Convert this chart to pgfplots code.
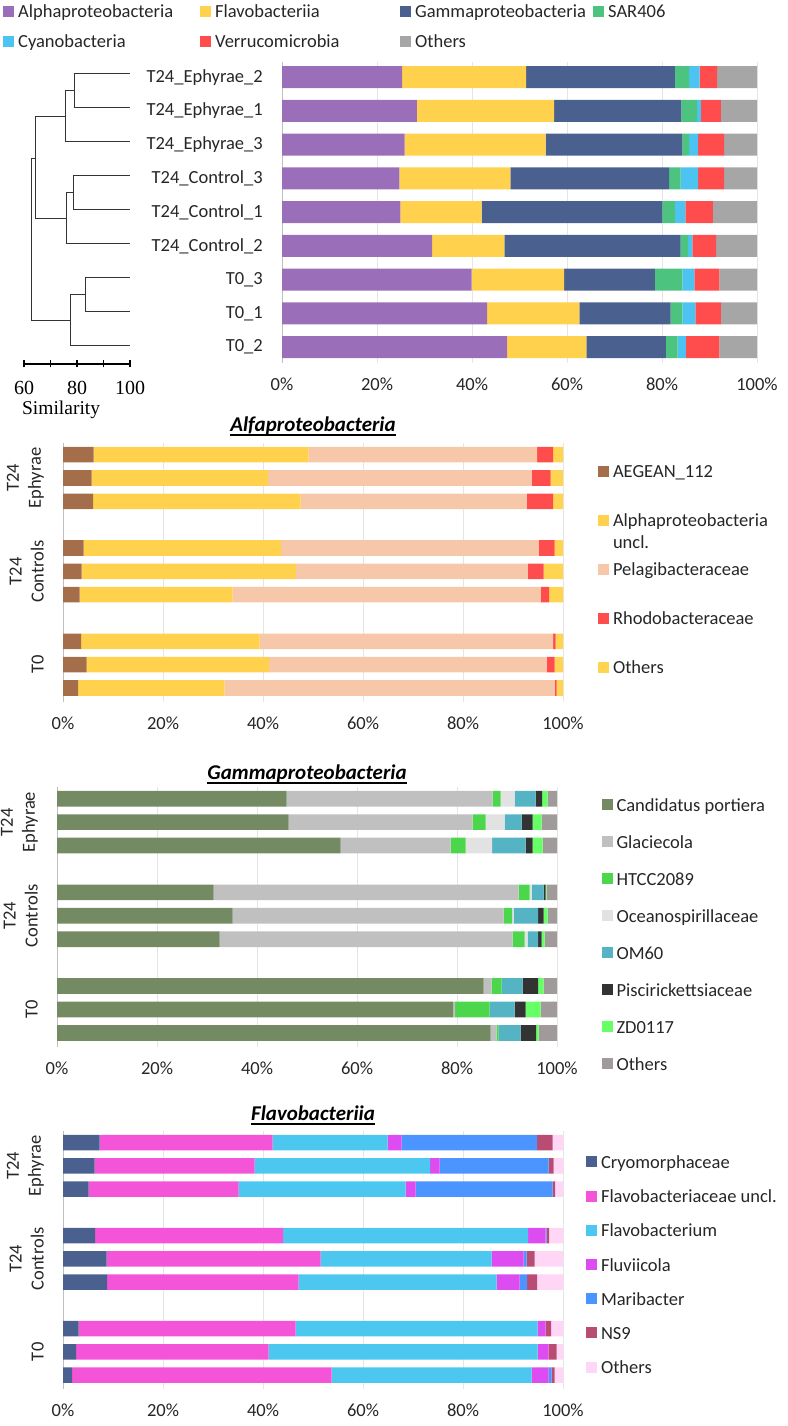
\documentclass[border=0pt]{standalone}
\usepackage{fontspec}
\setmainfont{Carlito}
\newfontfamily\serif{Liberation Serif}
\usepackage{pgfplots}
\usepackage{pgfplotstable}
\pgfplotsset{compat=1.18}

\newcommand\lbl{\fontsize{18.5}{22}\selectfont}
\newcommand\ttl{\fontsize{21}{25}\selectfont\bfseries\itshape}
\newsavebox\ulbox
\newcommand\ul[1]{\sbox\ulbox{#1}\rlap{\rule[-4pt]{\wd\ulbox}{1.5pt}}\usebox\ulbox}

% panel 1 colours
\definecolor{cAlpha}{RGB}{155,110,185}
\definecolor{cFlavo}{RGB}{255,209,77}
\definecolor{cGamma}{RGB}{74,97,144}
\definecolor{cSAR}{RGB}{76,196,127}
\definecolor{cCyano}{RGB}{76,195,240}
\definecolor{cVerru}{RGB}{255,77,77}
\definecolor{cOth}{RGB}{166,166,166}
% panel 2
\definecolor{cAeg}{RGB}{165,110,74}
\definecolor{cAlU}{RGB}{255,209,77}
\definecolor{cPel}{RGB}{246,199,168}
\definecolor{cRho}{RGB}{255,77,77}
\definecolor{cOthA}{RGB}{255,212,80}
% panel 3
\definecolor{cCand}{RGB}{115,138,98}
\definecolor{cGlac}{RGB}{192,192,192}
\definecolor{cHTCC}{RGB}{76,214,76}
\definecolor{cOcean}{RGB}{226,226,226}
\definecolor{cOM}{RGB}{85,180,196}
\definecolor{cPisc}{RGB}{51,51,51}
\definecolor{cZD}{RGB}{102,255,102}
\definecolor{cOthG}{RGB}{160,154,154}
% panel 4
\definecolor{cCryo}{RGB}{74,97,144}
\definecolor{cFlU}{RGB}{244,84,216}
\definecolor{cFlvb}{RGB}{76,200,240}
\definecolor{cFluvi}{RGB}{221,76,240}
\definecolor{cMari}{RGB}{76,148,255}
\definecolor{cNS}{RGB}{184,76,114}
\definecolor{cOthF}{RGB}{255,214,245}

\pgfplotstableread{
y Alpha Flavo Gamma SAR Cyano Verru Others
0 25.3 26.1 31.3 3.0 2.2 3.7 8.4
1 28.4 28.9 26.8 3.3 0.8 4.2 7.6
2 25.8 29.7 28.8 1.4 1.9 5.5 6.9
3 24.7 23.4 33.4 2.4 3.7 5.5 6.9
4 24.9 17.1 38.1 2.6 2.2 5.8 9.3
5 31.6 15.2 37.1 1.6 0.9 5.0 8.6
6 39.9 19.5 19.1 5.8 2.5 5.3 7.9
7 43.2 19.4 19.2 2.5 2.7 5.4 7.6
8 47.4 16.7 16.7 2.5 1.7 7.1 7.9
}\tabMain

\pgfplotstableread{
y Aeg AlU Pel Rho Oth
0 6.1 43.0 45.7 3.2 2.0
1 5.7 35.3 52.7 3.8 2.5
2 6.0 41.5 45.2 5.3 2.0
4 4.1 39.5 51.5 3.2 1.7
5 3.7 42.9 46.3 3.2 3.9
6 3.3 30.6 61.6 1.7 2.8
8 3.6 35.7 58.7 0.5 1.5
9 4.7 36.5 55.5 1.6 1.7
10 3.0 29.3 66.0 0.4 1.3
}\tabAlpha

\pgfplotstableread{
y Cand Glac HTCC Ocean OM Pisc ZD Oth
0 45.9 41.2 1.6 2.8 4.2 1.3 1.1 1.9
1 46.3 36.8 2.6 3.8 3.4 2.2 1.8 3.1
2 56.7 22.0 3.0 5.3 6.7 1.4 2.0 2.9
4 31.3 61.0 2.2 0.4 2.4 0.4 0.2 2.1
5 35.1 54.2 1.7 0.3 4.9 1.1 0.8 1.9
6 32.5 58.6 2.4 0.6 2.1 0.7 0.6 2.5
8 85.3 1.6 2.0 0.0 4.2 3.1 1.1 2.7
9 79.2 0.4 6.9 0.0 5.0 2.2 3.0 3.3
10 86.7 1.2 0.4 0.0 4.4 3.1 0.5 3.7
}\tabGamma

\pgfplotstableread{
y Cryo FlU Flvb Fluvi Mari NS Oth
0 7.3 34.6 23.0 2.8 27.1 3.1 2.1
1 6.3 32.0 35.1 1.9 21.8 1.0 1.9
2 5.1 30.0 33.4 2.0 27.4 0.5 1.6
4 6.4 37.6 49.0 3.5 0.2 0.5 2.8
5 8.7 42.8 34.2 6.4 0.6 1.6 5.7
6 8.8 38.3 39.6 4.6 1.5 2.0 5.2
8 3.1 43.4 48.4 1.6 0.0 1.1 2.4
9 2.6 38.5 53.8 2.2 0.0 1.6 1.3
10 1.8 51.9 40.0 3.4 0.6 0.6 1.7
}\tabFlavo

\pgfplotsset{
  stackbar/.style={
    xbar stacked, scale only axis, y dir=reverse,
    xmin=0, xmax=100,
    xtick={0,20,40,60,80,100},
    xticklabels={0\%,20\%,40\%,60\%,80\%,100\%},
    xmajorgrids, grid style={black!10, line width=0.6pt},
    axis lines*=left, axis line style={-},
    x axis line style={draw=none},
    y axis line style={draw=black!25, line width=0.8pt},
    major tick length=0pt, tick style={draw=none},
    tick label style={font=\lbl, text=black!85},
    xticklabel style={anchor=north, inner sep=0pt, text height=12pt, text depth=0pt},
    xticklabel shift=15pt,
    legend image code/.code={\fill[##1] (0pt,-3.5pt) rectangle (11pt,7.5pt);},
    legend cell align=left,
    legend style={draw=none, fill=none, inner sep=0pt, outer sep=0pt,
      font=\lbl, text=black!85, anchor=north west,
      nodes={inner xsep=4pt, inner ysep=0pt, text height=14pt, text depth=5pt, align=left}},
    every axis plot/.append style={draw=none},
  },
  group/.style={
    ymin=-0.5, ymax=10.6, bar width=0.67,
    ytick={1,5,9},
    yticklabels={{T24\\Ephyrae},{T24\\Controls},{T0}},
    yticklabel style={rotate=90, anchor=south, align=center, inner sep=0pt},
    yticklabel shift=19pt,
    title style={font=\ttl, at={(axis description cs:0.5,1)}, anchor=base},
  },
  dl/.style={black!80, line width=1pt, mark=none},
}

\begin{document}
\begin{tikzpicture}[font=\lbl]
\useasboundingbox (0,0) rectangle (787pt,1426pt);

% ---------- dendrogram ----------
\begin{axis}[
  at={(24pt,1062pt)}, anchor=south west, scale only axis,
  width=106pt, height=307pt,
  xmin=60, xmax=100, ymin=-0.5, ymax=8.53, y dir=reverse,
  axis x line*=bottom, axis y line=none,
  axis line style={-, black, line width=1.4pt},
  xtick={60,70,80,90,100}, xticklabels={60,,80,,100},
  tick align=center, major tick length=7pt,
  tick style={black, line width=1.2pt},
  xticklabel style={font=\serif\fontsize{20}{24}\selectfont, anchor=north, inner sep=0pt, text height=13pt, text depth=0pt},
  xticklabel shift=14pt,
  xlabel={Similarity},
  xlabel style={font=\serif\fontsize{19.5}{24}\selectfont, at={(axis description cs:0.35,0)}, anchor=base, yshift=-51pt, inner sep=0pt},
  clip=false,
]
\addplot[dl] coordinates {(100,0) (78.9,0) (78.9,1) (100,1)};
\addplot[dl] coordinates {(78.9,0.5) (75.6,0.5) (75.6,2) (100,2)};
\addplot[dl] coordinates {(100,3) (78.5,3) (78.5,4) (100,4)};
\addplot[dl] coordinates {(78.5,3.5) (76.1,3.5) (76.1,5) (100,5)};
\addplot[dl] coordinates {(75.6,1.25) (64.5,1.25) (64.5,4.25) (76.1,4.25)};
\addplot[dl] coordinates {(100,6) (83.1,6) (83.1,7) (100,7)};
\addplot[dl] coordinates {(83.1,6.5) (77.7,6.5) (77.7,8) (100,8)};
\addplot[dl] coordinates {(64.5,2.5) (62.9,2.5) (62.9,7.25) (77.7,7.25)};
\end{axis}

% ---------- panel 1 ----------
\begin{axis}[stackbar,
  at={(282pt,1063pt)}, anchor=south west,
  width=475pt, height=301pt,
  ymin=-0.45, ymax=8.47, bar width=0.65,
  ytick={0,...,8},
  yticklabels={T24\_Ephyrae\_2,T24\_Ephyrae\_1,T24\_Ephyrae\_3,T24\_Control\_3,T24\_Control\_1,T24\_Control\_2,T0\_3,T0\_1,T0\_2},
  yticklabel style={anchor=east, inner sep=0pt},
  yticklabel shift=19pt,
  legend columns=4,
  legend style={at={(axis description cs:-0.587,1.194)}, /tikz/row sep=11pt},
]
\addplot[fill=cAlpha] table[x=Alpha, y=y] {\tabMain};
\addplot[fill=cFlavo] table[x=Flavo, y=y] {\tabMain};
\addplot[fill=cGamma] table[x=Gamma, y=y] {\tabMain};
\addplot[fill=cSAR] table[x=SAR, y=y] {\tabMain};
\addplot[fill=cCyano] table[x=Cyano, y=y] {\tabMain};
\addplot[fill=cVerru] table[x=Verru, y=y] {\tabMain};
\addplot[fill=cOth] table[x=Others, y=y] {\tabMain};
\addlegendentry[text width=178pt]{Alphaproteobacteria}
\addlegendentry[text width=181pt]{Flavobacteriia}
\addlegendentry[text width=174pt]{Gammaproteobacteria}
\addlegendentry{SAR406}
\addlegendentry[text width=178pt]{Cyanobacteria}
\addlegendentry[text width=181pt]{Verrucomicrobia}
\addlegendentry[text width=174pt]{Others}
\end{axis}

% ---------- panel 2 ----------
\begin{axis}[stackbar, group,
  at={(63pt,724pt)}, anchor=south west,
  width=500pt, height=259pt,
  title={\ul{Alfaproteobacteria}},
  title style={yshift=5pt},
  legend style={at={(axis description cs:1.07,0.919)}, /tikz/row sep=30pt},
]
\addplot[fill=cAeg] table[x=Aeg, y=y] {\tabAlpha};
\addplot[fill=cAlU] table[x=AlU, y=y] {\tabAlpha};
\addplot[fill=cPel] table[x=Pel, y=y] {\tabAlpha};
\addplot[fill=cRho] table[x=Rho, y=y] {\tabAlpha};
\addplot[fill=cOthA] table[x=Oth, y=y] {\tabAlpha};
\addlegendentry{AEGEAN\_112}
\addlegendentry{\parbox[t]{170pt}{\lbl Alphaproteobacteria\\uncl.}}
\addlegendentry{Pelagibacteraceae}
\addlegendentry{Rhodobacteraceae}
\addlegendentry{Others}
\end{axis}

% ---------- panel 3 ----------
\begin{axis}[stackbar, group,
  at={(57pt,379pt)}, anchor=south west,
  width=500pt, height=260pt,
  title={\ul{Gammaproteobacteria}},
  title style={yshift=1pt},
  legend style={at={(axis description cs:1.089,0.96)}, /tikz/row sep=18pt},
]
\addplot[fill=cCand] table[x=Cand, y=y] {\tabGamma};
\addplot[fill=cGlac] table[x=Glac, y=y] {\tabGamma};
\addplot[fill=cHTCC] table[x=HTCC, y=y] {\tabGamma};
\addplot[fill=cOcean] table[x=Ocean, y=y] {\tabGamma};
\addplot[fill=cOM] table[x=OM, y=y] {\tabGamma};
\addplot[fill=cPisc] table[x=Pisc, y=y] {\tabGamma};
\addplot[fill=cZD] table[x=ZD, y=y] {\tabGamma};
\addplot[fill=cOthG] table[x=Oth, y=y] {\tabGamma};
\addlegendentry{Candidatus portiera}
\addlegendentry{Glaciecola}
\addlegendentry{HTCC2089}
\addlegendentry{Oceanospirillaceae}
\addlegendentry{OM60}
\addlegendentry{Piscirickettsiaceae}
\addlegendentry{ZD0117}
\addlegendentry{Others}
\end{axis}

% ---------- panel 4 ----------
\begin{axis}[stackbar, group,
  at={(63pt,37pt)}, anchor=south west,
  width=500pt, height=258pt,
  title={\ul{Flavobacteriia}},
  title style={yshift=4pt},
  legend style={at={(axis description cs:1.046,0.909)}, /tikz/row sep=15.2pt},
]
\addplot[fill=cCryo] table[x=Cryo, y=y] {\tabFlavo};
\addplot[fill=cFlU] table[x=FlU, y=y] {\tabFlavo};
\addplot[fill=cFlvb] table[x=Flvb, y=y] {\tabFlavo};
\addplot[fill=cFluvi] table[x=Fluvi, y=y] {\tabFlavo};
\addplot[fill=cMari] table[x=Mari, y=y] {\tabFlavo};
\addplot[fill=cNS] table[x=NS, y=y] {\tabFlavo};
\addplot[fill=cOthF] table[x=Oth, y=y] {\tabFlavo};
\addlegendentry{Cryomorphaceae}
\addlegendentry{Flavobacteriaceae uncl.}
\addlegendentry{Flavobacterium}
\addlegendentry{Fluviicola}
\addlegendentry{Maribacter}
\addlegendentry{NS9}
\addlegendentry{Others}
\end{axis}
\end{tikzpicture}
\end{document}
